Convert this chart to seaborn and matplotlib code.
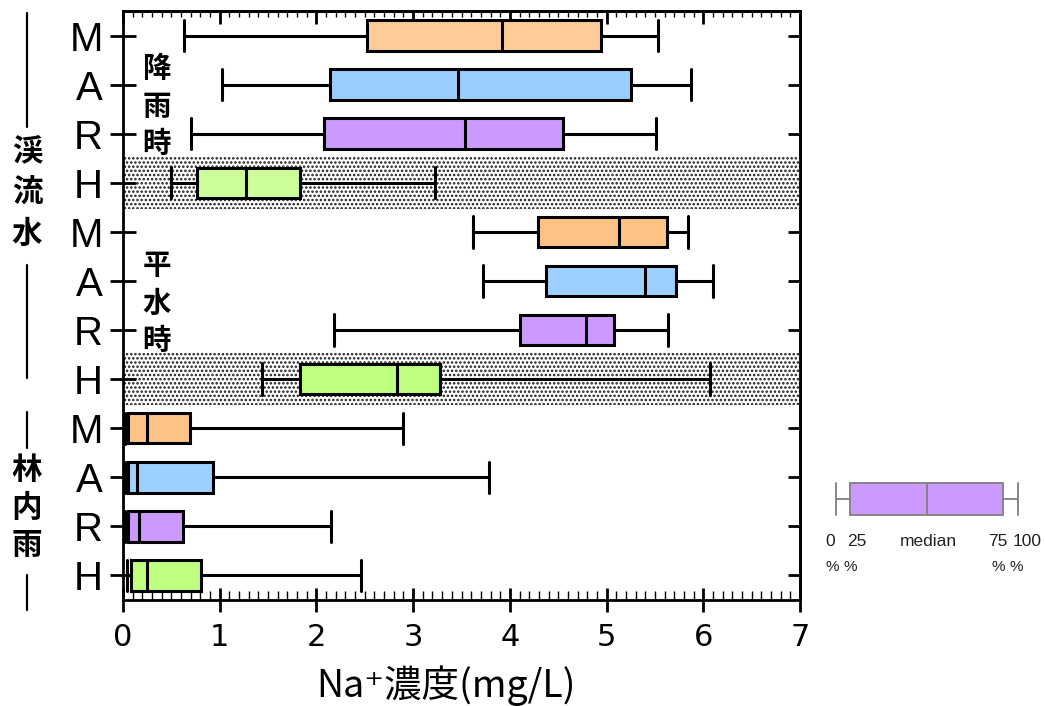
import numpy as np
import pandas as pd
import matplotlib
matplotlib.use("Agg")
import matplotlib.pyplot as plt
from matplotlib.lines import Line2D
from matplotlib.ticker import MultipleLocator, NullLocator
import seaborn as sns

sns.set_theme(style="white")
plt.rcParams["font.family"] = ["DejaVu Sans", "Noto Sans CJK JP"]
plt.rcParams["hatch.linewidth"] = 1.2

# ---- data: Na+ concentration (mg/L), five-number summaries per row ----
row_keys = ["rain_M", "rain_A", "rain_R", "rain_H",
            "base_M", "base_A", "base_R", "base_H",
            "tf_M", "tf_A", "tf_R", "tf_H"]
tick_letters = ["M", "A", "R", "H"] * 3
whisker_low = [0.63, 1.02, 0.70, 0.50, 3.62, 3.72, 2.18, 1.44, 0.02, 0.02, 0.02, 0.04]
q1 = [2.52, 2.14, 2.08, 0.76, 4.29, 4.37, 4.10, 1.83, 0.05, 0.05, 0.05, 0.08]
median = [3.92, 3.46, 3.54, 1.27, 5.13, 5.40, 4.79, 2.83, 0.25, 0.14, 0.17, 0.25]
q3 = [4.94, 5.25, 4.55, 1.83, 5.62, 5.72, 5.08, 3.28, 0.69, 0.93, 0.62, 0.81]
whisker_high = [5.53, 5.87, 5.51, 3.23, 5.84, 6.10, 5.63, 6.07, 2.89, 3.78, 2.15, 2.46]
row_colors = ["#FFCC99", "#99CCFF", "#CC99FF", "#CCFF99",
              "#FFC285", "#9DCFFF", "#CC99FF", "#BFFF7F",
              "#FFC285", "#9DCFFF", "#CC99FF", "#BFFF7F"]
shaded_rows = ["rain_H", "base_H"]
group_labels = ["渓流水", "林内雨"]
period_labels = ["降雨時", "平水時"]
x_ticks = [0, 1, 2, 3, 4, 5, 6, 7]
x_label = "Na⁺濃度(mg/L)"

# key diagram: schematic positions of min / 25% / median / 75% / max
key_values = [0, 7.7, 50, 91.8, 100]
key_texts = ["0", "25", "median", "75", "100"]

# long-form table: the five summary values reproduce each box exactly
records = []
for k, lo, a, m, b, hi in zip(row_keys, whisker_low, q1, median, q3, whisker_high):
    for v in (lo, a, m, b, hi):
        records.append({"row": k, "value": v})
df = pd.DataFrame(records)

W, H = 1045, 706
fig = plt.figure(figsize=(W / 100, H / 100), dpi=100)


def fx(px):
    return px / W


def fy(py):
    return 1 - py / H


ax = fig.add_axes([fx(123), fy(600), fx(800) - fx(123), fy(11) - fy(600)])
ax.set_axisbelow(True)

for key in shaded_rows:
    i = row_keys.index(key)
    ax.axhspan(i - 0.53, i + 0.53, facecolor="white", edgecolor="#1a1a1a",
               hatch="....", linewidth=0, zorder=0.2)

sns.boxplot(data=df, x="value", y="row", hue="row", order=row_keys,
            hue_order=row_keys, palette=dict(zip(row_keys, row_colors)),
            whis=(0, 100), width=0.62, saturation=1, linecolor="black",
            linewidth=2.2, capwidths=0.64, legend=False, ax=ax, zorder=2)

ax.set_xlim(0, 7)
ax.set_ylim(11.5, -0.5)
ax.set_xticks(x_ticks)
ax.set_xticklabels([str(t) for t in x_ticks])
ax.xaxis.set_minor_locator(MultipleLocator(0.1))
ax.yaxis.set_minor_locator(NullLocator())
ax.set_yticks(range(len(row_keys)))
ax.set_yticklabels(tick_letters, fontfamily="Liberation Sans")
ax.set_xlabel("")
ax.set_ylabel("")

ax.tick_params(axis="x", which="major", direction="inout", length=17, width=2,
               bottom=True, top=False, labelsize=22, pad=8, color="black",
               labelcolor="black")
ax.tick_params(axis="x", which="minor", direction="in", length=6.5, width=1,
               bottom=True, top=False, color="black")
ax.tick_params(axis="y", which="major", direction="inout", length=19, width=2,
               left=True, right=False, labelsize=29, pad=5, color="black",
               labelcolor="black")
for s in ax.spines.values():
    s.set_linewidth(2)
    s.set_color("black")

# inward ticks along the top and right edges
top = ax.secondary_xaxis("top")
top.set_xticks(x_ticks)
top.xaxis.set_minor_locator(MultipleLocator(0.1))
top.tick_params(which="major", direction="in", length=9.5, width=2, top=True,
                labeltop=False, color="black")
top.tick_params(which="minor", direction="in", length=4.5, width=1, top=True,
                color="black")
top.spines["top"].set_linewidth(2)

right = ax.secondary_yaxis("right")
right.set_yticks(range(len(row_keys)))
right.yaxis.set_minor_locator(NullLocator())
right.tick_params(which="major", direction="in", length=9, width=2, right=True,
                  labelright=False, color="black")
right.spines["right"].set_linewidth(2)

# axis title
fig.text(fx(446), fy(697), x_label, ha="center", va="baseline", fontsize=27,
         family=["Noto Sans CJK JP", "DejaVu Sans"], color="black")

# stacked vertical labels
def vertical_label(text, x, y0, step, size):
    for i, ch in enumerate(text):
        fig.text(fx(x), fy(y0 + i * step), ch, ha="center", va="center",
                 fontsize=size, fontweight="bold", family="Noto Sans CJK JP",
                 color="black", zorder=5)

vertical_label(period_labels[0], 157, 69, 37.5, 20.5)
vertical_label(period_labels[1], 157, 266, 37.5, 20.5)
vertical_label(group_labels[0], 27, 152, 41, 22)
vertical_label(group_labels[1], 27, 470, 37.5, 22)

for y0, y1 in [(13, 127), (265, 378), (412, 448), (575, 610)]:
    fig.add_artist(Line2D([fx(27), fx(27)], [fy(y0), fy(y1)], color="black",
                          linewidth=1.6, transform=fig.transFigure))

# key diagram
kax = fig.add_axes([fx(834), fy(521), fx(1020) - fx(834), fy(477) - fy(521)])
sns.boxplot(x=key_values, ax=kax, color="#CC99FF", saturation=1,
            linecolor="#7f7f7f", linewidth=1.3, width=0.74, capwidths=0.74,
            whis=(0, 100))
kax.set_xlim(-1.1, 101.1)
kax.set_ylim(0.5, -0.5)
kax.axis("off")

key_px = [830, 857, 928, 998, 1027]
for t, xp in zip(key_texts, key_px):
    fig.text(fx(xp), fy(541), t, ha="center", va="center", fontsize=12.5,
             family="Liberation Sans", color="#222222")
for xp in [832, 850, 998, 1016]:
    fig.text(fx(xp), fy(567), "%", ha="center", va="center", fontsize=11,
             family="Liberation Sans", color="#222222")

fig.savefig("out.png", dpi=100, facecolor="white")
